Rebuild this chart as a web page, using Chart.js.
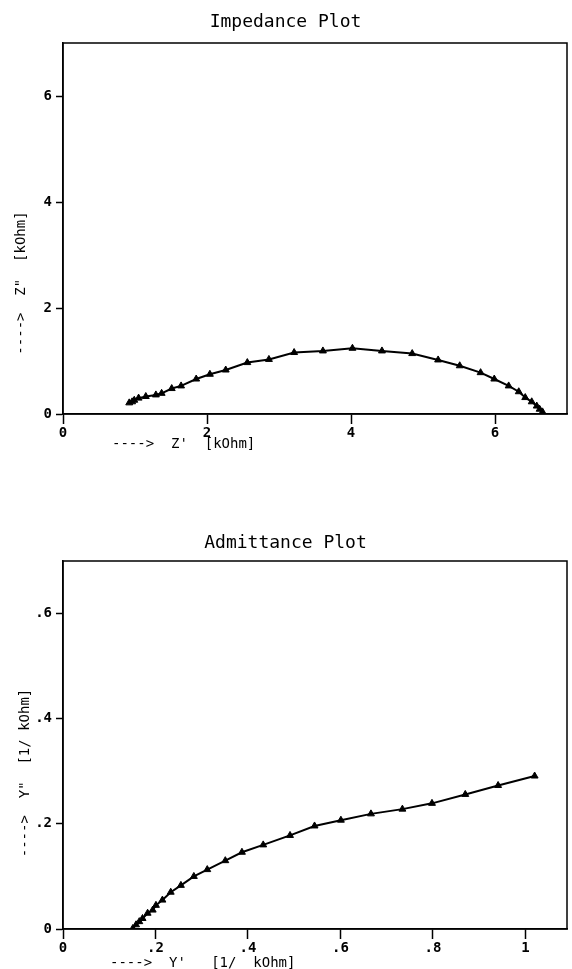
<!DOCTYPE html>
<html><head><meta charset="utf-8">
<script src="https://cdn.jsdelivr.net/npm/chart.js@4.4.1/dist/chart.umd.min.js"></script>
<style>
html,body{margin:0;padding:0;background:#fff;width:572px;height:969px;overflow:hidden}
.wrap{position:absolute;left:0;width:572px}
canvas{display:block}
</style></head><body>
<div class="wrap" style="top:0;height:470px"><canvas id="c1" width="572" height="470"></canvas></div>
<div class="wrap" style="top:500px;height:469px"><canvas id="c2" width="572" height="469"></canvas></div>
<script>
// ---- Impedance plot data (Z' , Z'' in kOhm) ----
const impedanceReal = [0.92,0.96,0.99,1.05,1.15,1.29,1.37,1.51,1.64,1.85,2.04,2.26,2.56,2.86,3.21,3.61,4.02,4.43,4.85,5.21,5.51,5.80,5.99,6.19,6.33,6.42,6.51,6.58,6.62,6.66];
const impedanceImag = [0.21,0.23,0.26,0.30,0.33,0.36,0.39,0.48,0.53,0.66,0.75,0.83,0.97,1.03,1.16,1.19,1.24,1.19,1.14,1.02,0.91,0.78,0.66,0.53,0.42,0.31,0.23,0.15,0.09,0.04];
const impedanceXTicks = [0,2,4,6];
const impedanceXTickLabels = ['0','2','4','6'];
const impedanceYTicks = [0,2,4,6];
const impedanceYTickLabels = ['0','2','4','6'];

// ---- Admittance plot data (Y' , Y'' in 1/kOhm) ----
const admittanceReal = [0.151,0.158,0.165,0.172,0.183,0.194,0.201,0.215,0.233,0.255,0.283,0.312,0.351,0.387,0.433,0.491,0.544,0.601,0.666,0.734,0.798,0.870,0.941,1.020];
const admittanceImag = [0.001,0.008,0.014,0.020,0.030,0.036,0.045,0.055,0.070,0.083,0.100,0.113,0.130,0.146,0.160,0.178,0.196,0.207,0.219,0.228,0.239,0.256,0.273,0.291];
const admittanceXTicks = [0,0.2,0.4,0.6,0.8,1];
const admittanceXTickLabels = ['0','.2','.4','.6','.8','1'];
const admittanceYTicks = [0,0.2,0.4,0.6];
const admittanceYTickLabels = ['0','.2','.4','.6'];

const MONO = '"DejaVu Sans Mono", "Liberation Mono", monospace';

const framePlugin = {
  id: 'frame',
  afterDraw(chart, args, o) {
    const ctx = chart.ctx, a = chart.chartArea;
    ctx.save();
    ctx.strokeStyle = '#000'; ctx.lineWidth = 1.5;
    ctx.strokeRect(a.left, a.top, a.right - a.left, a.bottom - a.top);
    ctx.fillStyle = '#000';
    ctx.font = '14px ' + MONO;
    ctx.textAlign = 'left'; ctx.textBaseline = 'alphabetic';
    ctx.fillText(o.xLabel, a.left + o.xDx, a.bottom + o.xDy);
    ctx.translate(o.yX, a.top + o.yDy);
    ctx.rotate(-Math.PI / 2);
    ctx.textAlign = 'center'; ctx.textBaseline = 'middle';
    ctx.fillText(o.yLabel, 0, 0);
    ctx.restore();
  }
};

function makeChart(id, title, titlePad, xs, ys, xMin, xMax, yMin, yMax, xT, xL, yT, yL, xAxisH, labels) {
  return new Chart(document.getElementById(id), {
    type: 'scatter',
    data: { datasets: [{
      data: xs.map((x, i) => ({ x: x, y: ys[i] })),
      showLine: true, borderColor: '#000', borderWidth: 2,
      backgroundColor: '#000', pointBorderColor: '#000', pointBorderWidth: 1,
      pointStyle: 'triangle', pointRadius: 4, tension: 0
    }]},
    plugins: [framePlugin],
    options: {
      responsive: false, animation: false,
      layout: { padding: { left: 0, right: 1, top: 0, bottom: 0 } },
      plugins: {
        legend: { display: false }, tooltip: { enabled: false },
        title: { display: true, text: title, color: '#000',
          font: { family: MONO, size: 18, weight: 'normal', lineHeight: 1.2 },
          padding: titlePad },
        frame: labels
      },
      scales: {
        x: { type: 'linear', min: xMin, max: xMax,
          afterFit(s) { s.height = xAxisH; s.paddingLeft = 0; s.paddingRight = 0; },
          afterBuildTicks(s) { s.ticks = xT.map(v => ({ value: v })); },
          ticks: { color: '#000', font: { family: MONO, size: 14, weight: 'bold' }, padding: 1,
            maxRotation: 0, autoSkip: false, callback: (v, i) => xL[i] },
          grid: { drawOnChartArea: false, drawTicks: true, tickLength: 10, tickColor: '#000', tickWidth: 1.5 },
          border: { display: true, color: '#000', width: 1.5 } },
        y: { type: 'linear', min: yMin, max: yMax,
          afterFit(s) { s.width = 63; s.paddingTop = 0; s.paddingBottom = 0; },
          afterBuildTicks(s) { s.ticks = yT.map(v => ({ value: v })); },
          ticks: { color: '#000', font: { family: MONO, size: 14, weight: 'bold' }, padding: 4,
            autoSkip: false, callback: (v, i) => yL[i] },
          grid: { drawOnChartArea: false, drawTicks: true, tickLength: 7, tickColor: '#000', tickWidth: 1.5 },
          border: { display: true, color: '#000', width: 1.5 } }
      }
    }
  });
}

makeChart('c1', 'Impedance Plot', { top: 12, bottom: 9.4 }, impedanceReal, impedanceImag,
  0, 7, 0, 7, impedanceXTicks, impedanceXTickLabels, impedanceYTicks, impedanceYTickLabels, 56,
  { xLabel: "---->  Z'  [kOhm]", xDx: 49, xDy: 34, yLabel: '---->  Z"  [kOhm]', yX: 21, yDy: 240 });

makeChart('c2', 'Admittance Plot', { top: 33, bottom: 6.4 }, admittanceReal, admittanceImag,
  0, 1.09, 0, 0.7, admittanceXTicks, admittanceXTickLabels, admittanceYTicks, admittanceYTickLabels, 40,
  { xLabel: "---->  Y'   [1/  kOhm]", xDx: 47, xDy: 38, yLabel: '---->  Y"  [1/ kOhm]', yX: 25, yDy: 212 });
</script>
</body></html>
